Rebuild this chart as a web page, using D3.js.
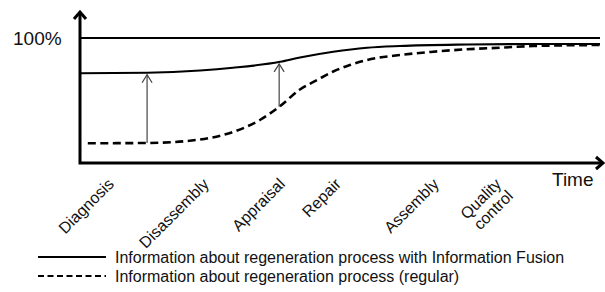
<!DOCTYPE html>
<meta charset="utf-8">
<style>
  body { margin: 0; background: #fff; }
  text { font-family: "Liberation Sans", Arial, sans-serif; fill: #111; }
</style>
<body>
<script src="https://d3js.org/d3.v7.min.js"></script>
<script>
// process phases along the time axis
var phases = ["Diagnosis", "Disassembly", "Appraisal", "Repair", "Assembly", "Quality control"];
var phaseTime = [6.7, 25.0, 39.6, 50.4, 69.2, 81.2];

// information level (% of full) over time
var fusionT = [0, 12.9, 23.1, 29.4, 38.5, 42.3, 48.7, 55.2, 61.5, 74.4, 86.5, 100];
var fusionV = [71.8, 72.2, 74.0, 76.2, 81.0, 84.4, 89.0, 92.2, 93.6, 94.8, 95.2, 95.2];

var regularT = [1.5, 12.9, 23.1, 29.4, 34.6, 38.5, 42.3, 45.6, 48.7, 51.9, 55.2, 61.5, 67.9, 74.4, 80.8, 87.1, 100];
var regularV = [15.8, 16.0, 18.8, 24.8, 34.4, 45.6, 58.8, 66.4, 73.2, 78.4, 82.4, 86.4, 89.0, 91.0, 92.2, 93.6, 94.4];

var gainT = [12.9, 38.3];

var legendLabels = ["Information about regeneration process with Information Fusion",
                    "Information about regeneration process (regular)"];

var width = 605, height = 292;

var svg = d3.select("body").append("svg")
    .attr("width", width)
    .attr("height", height);

var x = d3.scaleLinear().domain([0, 100]).range([80, 600]);
var y = d3.scaleLinear().domain([0, 100]).range([163, 38]);

var line = d3.line()
    .x(d => x(d[0]))
    .y(d => y(d[1]))
    .curve(d3.curveMonotoneX);

var fusion = d3.zip(fusionT, fusionV);
var regular = d3.zip(regularT, regularV);

// 100% level
svg.append("line")
    .attr("x1", x(0)).attr("x2", x(100))
    .attr("y1", y(100)).attr("y2", y(100))
    .attr("stroke", "#000").attr("stroke-width", 2);

svg.append("text")
    .attr("x", 13).attr("y", y(100) + 7)
    .style("font-size", "19px")
    .text("100%");

// curves
svg.append("path")
    .datum(fusion)
    .attr("d", line)
    .attr("fill", "none")
    .attr("stroke", "#000")
    .attr("stroke-width", 2.2);

svg.append("path")
    .datum(regular)
    .attr("d", line)
    .attr("fill", "none")
    .attr("stroke", "#000")
    .attr("stroke-width", 2.6)
    .attr("stroke-dasharray", "8,4.5");

// arrows showing the information gain
var interp = function(ts, vs, t) {
  var i = d3.bisectLeft(ts, t);
  if (ts[i] === t) return vs[i];
  var k = (t - ts[i - 1]) / (ts[i] - ts[i - 1]);
  return vs[i - 1] + k * (vs[i] - vs[i - 1]);
};

gainT.forEach(function(t) {
  var xp = x(t),
      y0 = y(interp(regularT, regularV, t)),
      y1 = y(interp(fusionT, fusionV, t)) + 2;
  var g = svg.append("g").attr("stroke", "#444").attr("fill", "none").attr("stroke-width", 1.2);
  g.append("line").attr("x1", xp).attr("x2", xp).attr("y1", y0).attr("y2", y1);
  g.append("polyline").attr("points", [[xp - 5, y1 + 8], [xp, y1], [xp + 5, y1 + 8]].join(" "));
});

// axes
var axes = svg.append("g").attr("stroke", "#000").attr("fill", "none").attr("stroke-width", 3);
axes.append("polyline").attr("points", [[x(0), 12], [x(0), y(0)], [603, y(0)]].join(" "));
axes.append("polyline").attr("points", [[x(0) - 6, 19], [x(0), 12], [x(0) + 6, 19]].join(" "));
axes.append("polyline").attr("points", [[596, y(0) - 6], [603, y(0)], [596, y(0) + 6]].join(" "));

svg.append("text")
    .attr("x", 552).attr("y", 186)
    .style("font-size", "19px")
    .text("Time");

// phase labels, rotated
var labels = svg.selectAll(".phase")
    .data(phases)
    .enter().append("text")
    .attr("class", "phase")
    .attr("text-anchor", "end")
    .style("font-size", "16px")
    .attr("transform", (d, i) => "translate(" + x(phaseTime[i]) + ",185) rotate(-45)");

labels.each(function(d) {
  var parts = d.split(" ");
  var t = d3.select(this);
  parts.forEach(function(p, j) {
    t.append("tspan").attr("x", 0).attr("dy", j ? "1.05em" : 0).text(p);
  });
});

// legend
var legend = svg.selectAll(".legend")
    .data(legendLabels)
    .enter().append("g")
    .attr("class", "legend")
    .attr("transform", (d, i) => "translate(0," + (257 + i * 19) + ")");

legend.append("line")
    .attr("x1", 38).attr("x2", 106)
    .attr("stroke", "#000")
    .attr("stroke-width", 2.2)
    .attr("stroke-dasharray", (d, i) => i ? "6,3.5" : null);

legend.append("text")
    .attr("x", 115).attr("y", 5.5)
    .style("font-size", "16px")
    .text(d => d);
</script>
</body>
